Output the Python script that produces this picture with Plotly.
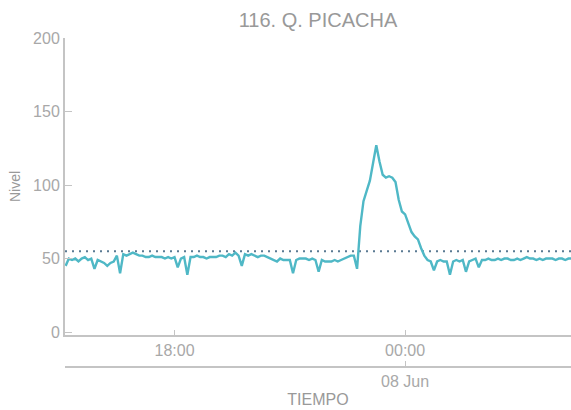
import pandas as pd
import plotly.graph_objects as go

# 5-minute readings, 2023-06-07 15:10 -> 2023-06-08 04:20
start_time = "2023-06-07 15:10"
nivel_15h = [45, 50, 49, 50, 48, 50, 51, 49, 50, 43]
nivel_16h = [49, 48, 47, 45, 47, 48, 52, 40, 53, 52, 53, 54]
nivel_17h = [53, 52, 52, 51, 51, 52, 51, 51, 51, 50, 51, 50]
nivel_18h = [51, 44, 50, 51, 39, 51, 51, 52, 51, 51, 50, 51]
nivel_19h = [51, 51, 52, 52, 51, 53, 52, 54, 52, 45, 53, 52]
nivel_20h = [53, 52, 51, 52, 52, 51, 50, 49, 48, 50, 49, 49]
nivel_21h = [49, 40, 49, 50, 50, 50, 49, 50, 49, 41, 49, 48]
nivel_22h = [48, 48, 49, 48, 49, 50, 51, 52, 52, 43, 72, 89]
nivel_23h = [96, 103, 115, 127, 116, 107, 105, 106, 105, 102, 90, 82]
nivel_00h = [80, 74, 68, 65, 63, 57, 52, 49, 48, 42, 48, 49]
nivel_01h = [48, 48, 39, 48, 49, 48, 49, 41, 48, 49, 50, 44]
nivel_02h = [49, 49, 50, 49, 49, 50, 49, 50, 50, 49, 49, 50]
nivel_03h = [49, 50, 51, 50, 50, 49, 50, 49, 50, 50, 50, 49]
nivel_04h = [50, 50, 49, 50, 50]

umbral = 55
y_ticks = [0, 50, 100, 150, 200]
titulo = "116. Q. PICACHA"

nivel = (nivel_15h + nivel_16h + nivel_17h + nivel_18h + nivel_19h + nivel_20h +
         nivel_21h + nivel_22h + nivel_23h + nivel_00h + nivel_01h + nivel_02h +
         nivel_03h + nivel_04h)
tiempo = pd.date_range(start_time, periods=len(nivel), freq="5min")

x_range = ["2023-06-07 15:09", "2023-06-08 04:19"]

grey_line = "#c4c4c4"
grey_text = "#a8a8a8"
font_family = "Liberation Sans, Arial, sans-serif"

W, H = 571, 410
mt, mb, ml = 38, 43, 65
ph = H - mt - mb

fig = go.Figure()
fig.add_trace(go.Scatter(
    x=[x_range[0], x_range[1]], y=[umbral, umbral], mode="lines",
    line=dict(color="#5a7a92", width=2, dash="2px,5px"),
    hoverinfo="skip", showlegend=False))
fig.add_trace(go.Scatter(
    x=tiempo, y=nivel, mode="lines",
    line=dict(color="#4fb8c6", width=2.4),
    showlegend=False))

fig.update_layout(
    width=W, height=H,
    margin=dict(l=ml, r=0, t=mt, b=mb, autoexpand=False),
    paper_bgcolor="white", plot_bgcolor="white",
    font=dict(family=font_family, color=grey_text, size=16),
    title=dict(text=titulo, x=0.5, xref="paper", y=1 - 20 / H, yanchor="middle",
               font=dict(size=20, color="#999999", family=font_family)),
    xaxis=dict(
        type="date", range=x_range, anchor="y", automargin=False,
        showgrid=False, zeroline=False, showline=True, linecolor=grey_line, linewidth=2,
        ticks="inside", ticklen=5, tickcolor=grey_line, tickwidth=1,
        dtick=6 * 3600 * 1000, tick0="2023-06-07 00:00", tickformat="%H:%M",
        tickfont=dict(size=16, color=grey_text),
    ),
    xaxis2=dict(
        type="date", range=x_range, overlaying="x", anchor="free", position=0,
        side="bottom", automargin=False,
        showgrid=False, zeroline=False, showline=True, linecolor=grey_line, linewidth=2,
        ticks="inside", ticklen=5, tickcolor=grey_line, tickwidth=1,
        dtick=24 * 3600 * 1000, tick0="2023-06-07 00:00", tickformat="%d %b",
        tickfont=dict(size=16, color=grey_text),
        title=dict(text="TIEMPO", font=dict(size=16, color="#999999"), standoff=4),
    ),
    yaxis=dict(
        range=[-2, 200], domain=[(367 - 335) / ph, 1], automargin=False,
        showgrid=False, zeroline=False, showline=True, linecolor=grey_line, linewidth=2,
        ticks="inside", ticklen=7, tickcolor=grey_line, tickwidth=1,
        tickvals=y_ticks, tickfont=dict(size=16, color=grey_text),
        title=dict(text="Nivel", font=dict(size=14, color="#999999"), standoff=9),
    ),
)
# dummy trace to make xaxis2 render
fig.add_trace(go.Scatter(x=[tiempo[0]], y=[None], xaxis="x2", yaxis="y",
                         showlegend=False, hoverinfo="skip"))

fig.write_html(
    "out.html",
    config={"displayModeBar": False},
    post_script="document.body.style.margin='0';document.body.style.overflow='hidden';",
)
